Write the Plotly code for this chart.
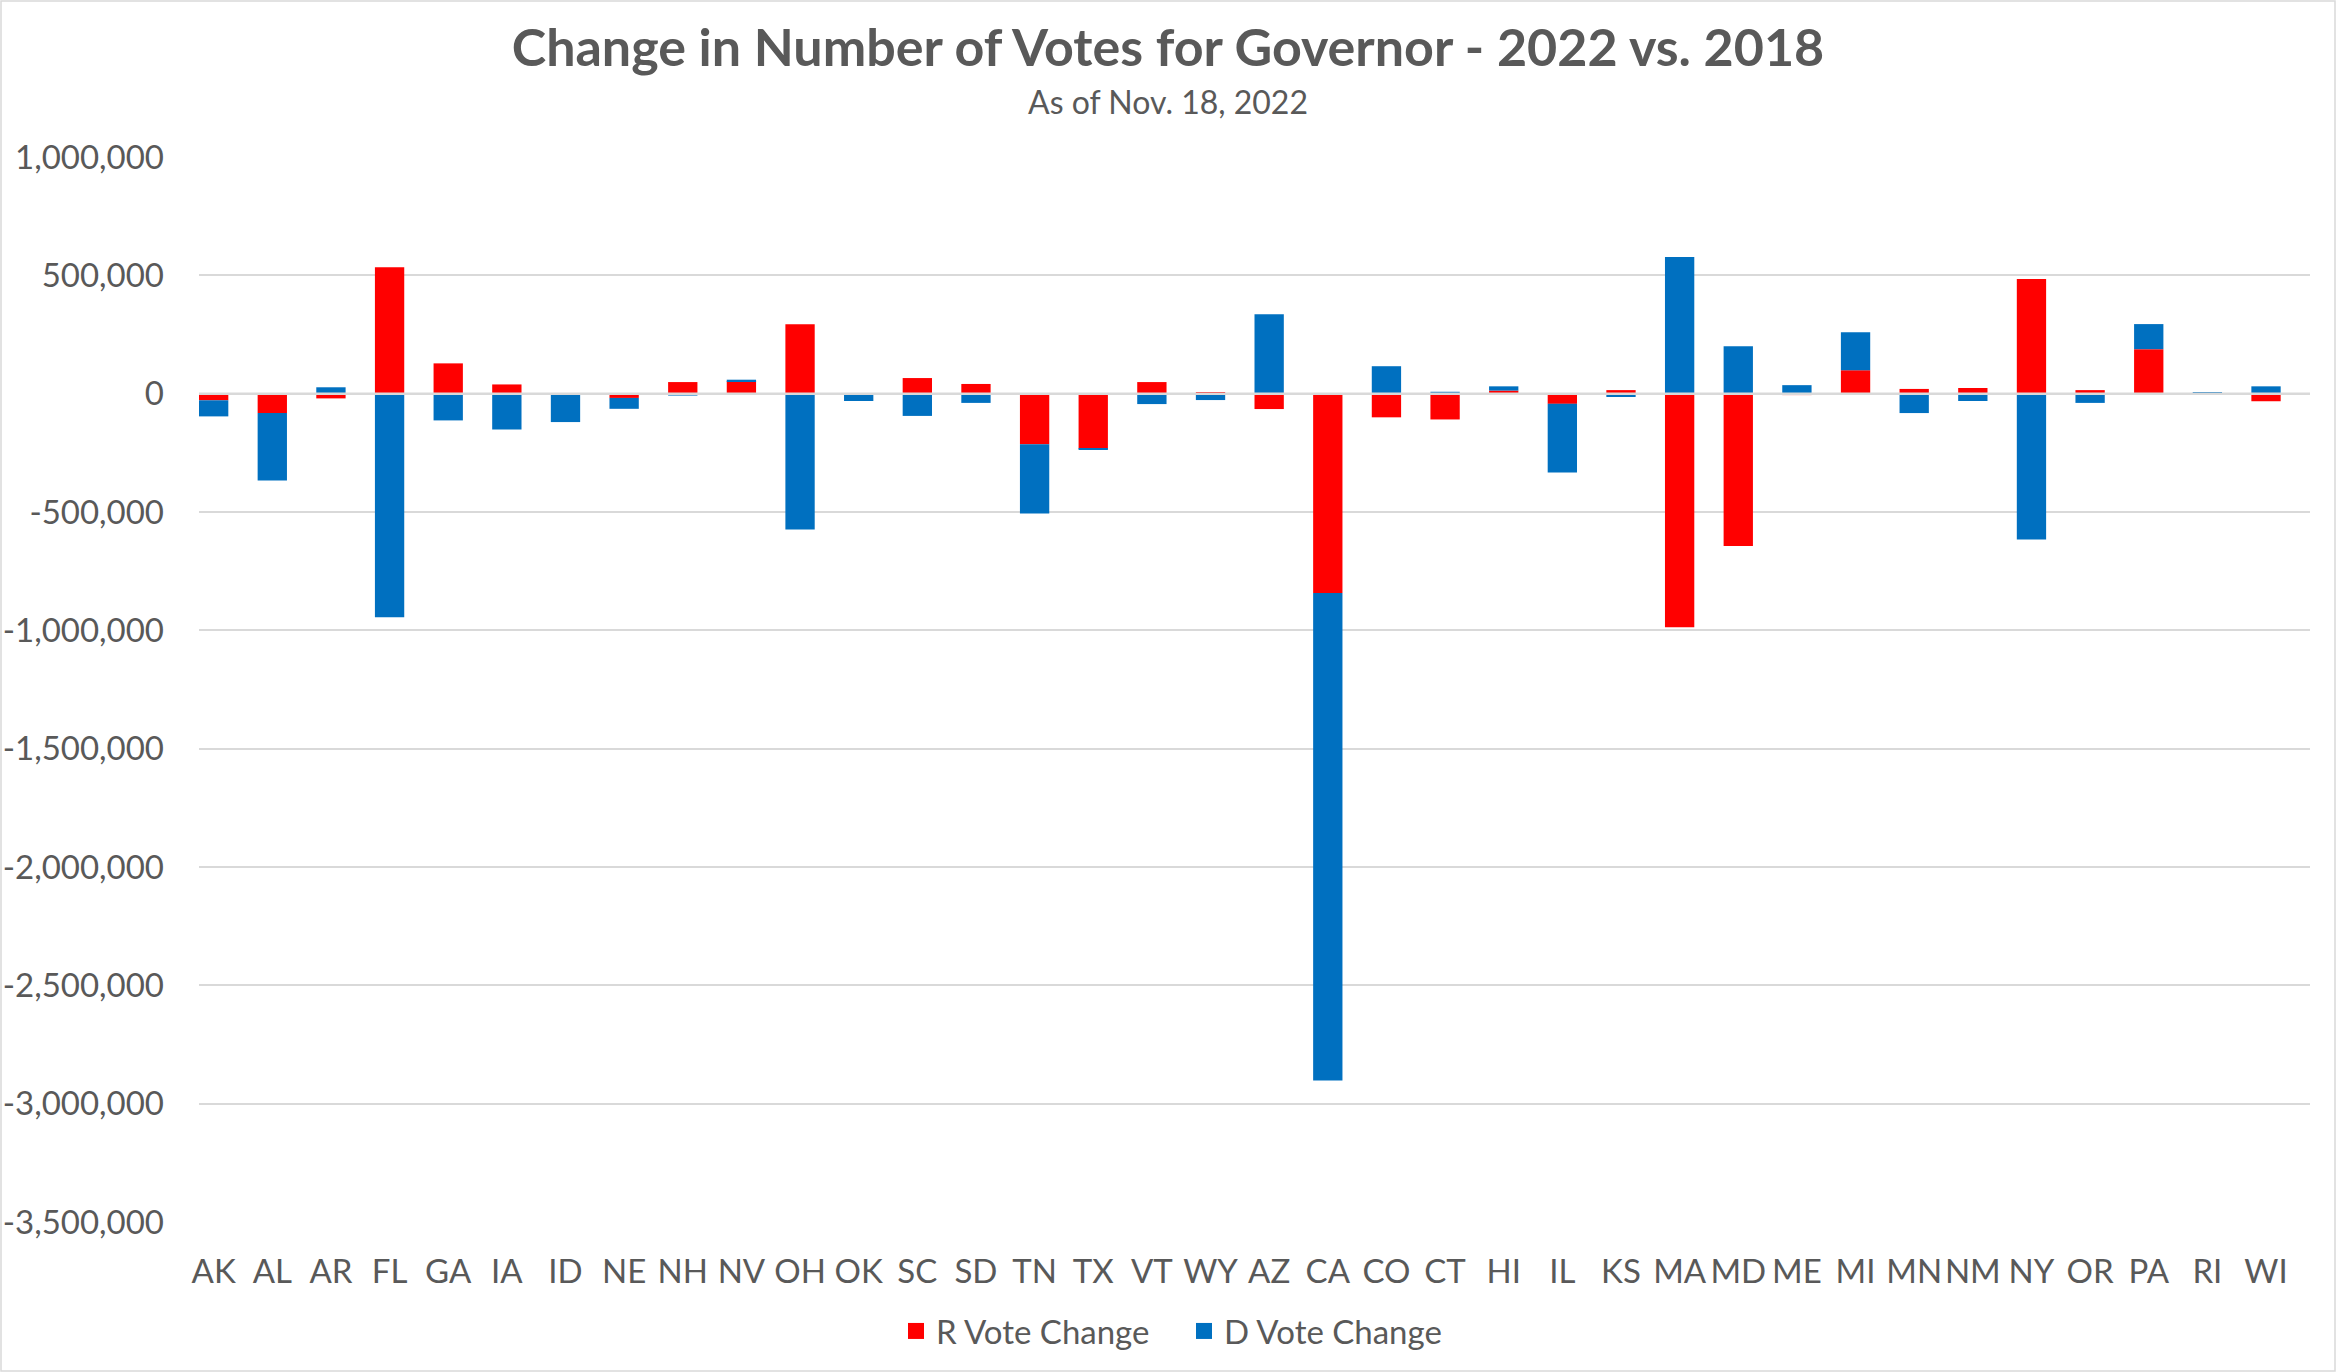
import plotly.graph_objects as go

states = ["AK", "AL", "AR", "FL", "GA", "IA", "ID", "NE", "NH", "NV", "OH", "OK",
          "SC", "SD", "TN", "TX", "VT", "WY", "AZ", "CA", "CO", "CT", "HI", "IL",
          "KS", "MA", "MD", "ME", "MI", "MN", "NM", "NY", "OR", "PA", "RI", "WI"]

r_change = [-28000, -82000, -20000, 534000, 128000, 39000, -3000, -18000, 49000, 53000,
            293000, -4000, 66000, 41000, -214000, -233000, 49000, 4000, -65000, -842000,
            -100000, -109000, 13000, -43000, 15000, -987000, -644000, -6000, 99000, 20000,
            24000, 484000, 15000, 188000, 1000, -32000]

d_change = [-68000, -285000, 27000, -945000, -113000, -151000, -117000, -46000, -8000, 6000,
            -574000, -27000, -94000, -39000, -292000, -3000, -44000, -27000, 336000, -2060000,
            116000, 8000, 18000, -290000, -14000, 577000, 200000, 36000, 161000, -82000,
            -31000, -616000, -39000, 106000, 4000, 31000]

y_ticks = [1000000, 500000, 0, -500000, -1000000, -1500000, -2000000, -2500000, -3000000, -3500000]
y_tick_text = ["1,000,000", "500,000", "0", "-500,000", "-1,000,000", "-1,500,000",
               "-2,000,000", "-2,500,000", "-3,000,000", "-3,500,000"]

series_names = ["R Vote Change", "D Vote Change"]
series_colors = ["#FF0000", "#0070C0"]

title_text = "Change in Number of Votes for Governor - 2022 vs. 2018"
subtitle_text = "As of Nov. 18, 2022"

FONT = "Lato"
GRAY = "#595959"
W, H = 2336, 1372
L, R, T, B = 199, 26, 157, 150
plot_w = W - L - R
plot_h = H - T - B

fig = go.Figure()
for vals, name, color in zip([r_change, d_change], series_names, series_colors):
    fig.add_trace(go.Bar(x=states, y=vals, name=name, marker_color=color,
                         marker_line_width=0, showlegend=False))
# legend entries with square swatches
for name, color in zip(series_names, series_colors):
    fig.add_trace(go.Scatter(x=[None], y=[None], mode="markers", name=name,
                             marker=dict(symbol="square", size=20, color=color),
                             showlegend=True))

fig.update_layout(
    width=W, height=H,
    margin=dict(l=L, r=R, t=T, b=B, autoexpand=False),
    barmode="relative",
    bargap=0.5,
    plot_bgcolor="white",
    paper_bgcolor="white",
    font=dict(family=FONT, color=GRAY, size=33),
    title=dict(text="<b>" + title_text + "</b>", x=0.5, xref="container",
               y=1 - 48 / H, yref="container", xanchor="center", yanchor="middle",
               font=dict(family=FONT, size=52, color=GRAY)),
    showlegend=True,
    legend=dict(orientation="h", x=(W / 2 - L + 16) / plot_w, xanchor="center",
                y=-(1331 - (H - B)) / plot_h, yanchor="middle",
                font=dict(family=FONT, size=33, color=GRAY),
                itemwidth=30, traceorder="normal",
                entrywidth=243, entrywidthmode="pixels"),
    xaxis=dict(type="category", range=[-0.25, len(states) - 0.25], showgrid=False,
               zeroline=False, showline=False, ticks="", ticklabelstandoff=27,
               tickfont=dict(family=FONT, size=33, color=GRAY), fixedrange=True),
    yaxis=dict(range=[-3500000, 1000000], tickvals=y_ticks, ticktext=y_tick_text,
               showgrid=True, gridcolor="#D9D9D9", gridwidth=2, zeroline=False,
               showline=False, ticks="", ticklabelstandoff=34,
               tickfont=dict(family=FONT, size=33, color=GRAY), fixedrange=True),
    annotations=[dict(text=subtitle_text, xref="paper", yref="paper",
                      x=(W / 2 - L) / plot_w, y=(H - B - 101) / plot_h,
                      xanchor="center", yanchor="middle", showarrow=False,
                      font=dict(family=FONT, size=32, color=GRAY))],
    shapes=[
        dict(type="line", xref="paper", yref="y", x0=0, x1=1, y0=0, y1=0,
             line=dict(color="#D9D9D9", width=2.5), layer="above"),
        dict(type="rect", xref="paper", yref="paper",
             x0=-(L - 1) / plot_w, x1=(W - L - 1) / plot_w,
             y0=-(B - 1) / plot_h, y1=(H - B - 1) / plot_h,
             line=dict(color="#D9D9D9", width=1.5), layer="below"),
    ],
)

fig.write_html("out.html", config={"displayModeBar": False},
               post_script="document.body.style.margin='0';document.body.style.overflow='hidden';")
